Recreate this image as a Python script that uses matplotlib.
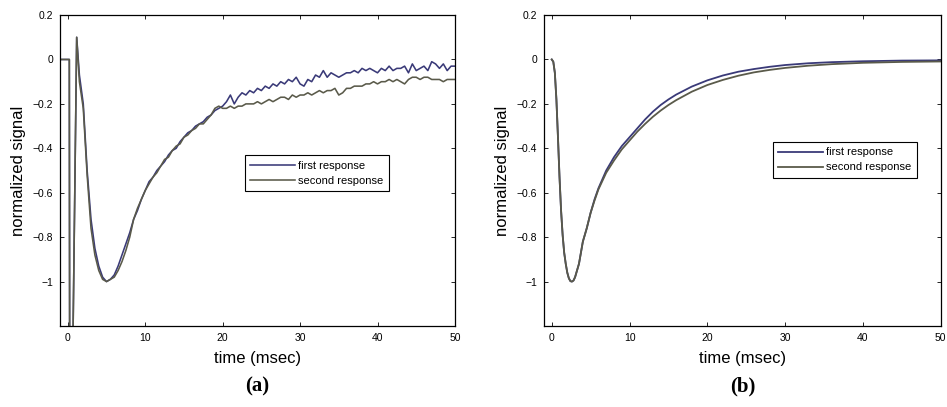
import numpy as np
import matplotlib
matplotlib.use("Agg")
import matplotlib.pyplot as plt
from matplotlib import rcParams
rcParams["font.family"] = ["Liberation Sans", "DejaVu Sans"]

# ---- panel (a): measured responses ----
t_a_early = [-1.0, 0.2, 0.25, 0.55, 1.15]
y_a_early = [0.0, 0.0, -1.6, -1.6, 0.1]
t_a = [1.5, 2.0, 2.5, 3.0, 3.5, 4.0, 4.5, 5.0, 5.5, 6.0,
       6.5, 7.0, 7.5, 8.0, 8.5, 9.0, 9.5, 10.0, 10.5, 11.0,
       11.5, 12.0, 12.5, 13.0, 13.5, 14.0, 14.5, 15.0, 15.5, 16.0,
       16.5, 17.0, 17.5, 18.0, 18.5, 19.0, 19.5, 20.0, 20.5, 21.0,
       21.5, 22.0, 22.5, 23.0, 23.5, 24.0, 24.5, 25.0, 25.5, 26.0,
       26.5, 27.0, 27.5, 28.0, 28.5, 29.0, 29.5, 30.0, 30.5, 31.0,
       31.5, 32.0, 32.5, 33.0, 33.5, 34.0, 34.5, 35.0, 35.5, 36.0,
       36.5, 37.0, 37.5, 38.0, 38.5, 39.0, 39.5, 40.0, 40.5, 41.0,
       41.5, 42.0, 42.5, 43.0, 43.5, 44.0, 44.5, 45.0, 45.5, 46.0,
       46.5, 47.0, 47.5, 48.0, 48.5, 49.0, 49.5, 50.0]
first_a = [-0.07, -0.20, -0.50, -0.72, -0.85, -0.93, -0.98, -1.00, -0.99, -0.97,
           -0.93, -0.88, -0.83, -0.78, -0.72, -0.68, -0.63, -0.59, -0.55, -0.53,
           -0.50, -0.48, -0.46, -0.43, -0.41, -0.40, -0.37, -0.35, -0.33, -0.32,
           -0.30, -0.29, -0.28, -0.26, -0.25, -0.23, -0.22, -0.21, -0.19, -0.16,
           -0.20, -0.17, -0.15, -0.16, -0.14, -0.15, -0.13, -0.14, -0.12, -0.13,
           -0.11, -0.12, -0.10, -0.11, -0.09, -0.10, -0.08, -0.11, -0.12, -0.09,
           -0.10, -0.07, -0.08, -0.05, -0.08, -0.06, -0.07, -0.08, -0.07, -0.06,
           -0.06, -0.05, -0.06, -0.04, -0.05, -0.04, -0.05, -0.06, -0.04, -0.05,
           -0.03, -0.05, -0.04, -0.04, -0.03, -0.06, -0.02, -0.05, -0.04, -0.03,
           -0.05, -0.01, -0.02, -0.04, -0.02, -0.05, -0.03, -0.03]
second_a = [-0.10, -0.22, -0.52, -0.76, -0.88, -0.95, -0.99, -1.00, -0.99, -0.98,
            -0.95, -0.91, -0.86, -0.80, -0.72, -0.67, -0.63, -0.59, -0.56, -0.53,
            -0.51, -0.48, -0.45, -0.44, -0.41, -0.39, -0.38, -0.35, -0.34, -0.32,
            -0.31, -0.29, -0.29, -0.27, -0.25, -0.22, -0.21, -0.22, -0.22, -0.21,
            -0.22, -0.21, -0.21, -0.20, -0.20, -0.20, -0.19, -0.20, -0.19, -0.18,
            -0.19, -0.18, -0.17, -0.17, -0.18, -0.16, -0.17, -0.16, -0.16, -0.15,
            -0.16, -0.15, -0.14, -0.15, -0.14, -0.14, -0.13, -0.16, -0.15, -0.13,
            -0.13, -0.12, -0.12, -0.12, -0.11, -0.11, -0.10, -0.11, -0.10, -0.10,
            -0.09, -0.10, -0.09, -0.10, -0.11, -0.09, -0.08, -0.08, -0.09, -0.08,
            -0.08, -0.09, -0.09, -0.09, -0.10, -0.09, -0.09, -0.09]

# ---- panel (b): model responses ----
t_b = [0, 0.2, 0.4, 0.6, 0.8, 1.0, 1.2, 1.4, 1.6, 1.8, 2.0, 2.2, 2.4, 2.6, 2.8,
       3.0, 3.5, 4.0, 4.5, 5.0, 5.5, 6, 7, 8, 9, 10, 11, 12, 13, 14, 15, 16,
       18, 20, 22, 24, 26, 28, 30, 33, 36, 40, 45, 50]
first_b = [0.0, -0.01, -0.06, -0.18, -0.35, -0.53, -0.68, -0.79, -0.87, -0.92,
           -0.96, -0.985, -0.998, -1.0, -0.995, -0.98, -0.92, -0.82, -0.76, -0.69,
           -0.63, -0.58, -0.50, -0.44, -0.39, -0.35, -0.31, -0.27, -0.235, -0.205,
           -0.18, -0.158, -0.122, -0.094, -0.072, -0.055, -0.043, -0.033, -0.025,
           -0.017, -0.012, -0.008, -0.005, -0.004]
second_b = [0.0, -0.01, -0.06, -0.18, -0.35, -0.53, -0.68, -0.79, -0.87, -0.92,
            -0.96, -0.985, -0.998, -1.0, -0.995, -0.98, -0.92, -0.82, -0.76, -0.69,
            -0.635, -0.585, -0.51, -0.455, -0.405, -0.365, -0.325, -0.29, -0.258, -0.23,
            -0.205, -0.183, -0.145, -0.115, -0.092, -0.073, -0.058, -0.047, -0.038,
            -0.028, -0.021, -0.015, -0.011, -0.009]

yticks = [-1.0, -0.8, -0.6, -0.4, -0.2, 0.0, 0.2]
ytick_labels = ["\u22121", "\u22120.8", "\u22120.6", "\u22120.4", "\u22120.2", "0", "0.2"]
xticks = [0, 10, 20, 30, 40, 50]

c_first = "#3a3a78"
c_second = "#5a5a4a"

fig = plt.figure(figsize=(9.47, 4.07), dpi=100)
ax_a = fig.add_axes([0.0634, 0.199, 0.417, 0.764])
ax_b = fig.add_axes([0.5744, 0.199, 0.419, 0.764])

ax_a.plot(t_a_early + t_a, y_a_early + first_a, color=c_first, lw=1.15, label="first response")
ax_a.plot(t_a_early + t_a, y_a_early + second_a, color=c_second, lw=1.15, label="second response")
ax_b.plot(t_b, first_b, color=c_first, lw=1.3, label="first response")
ax_b.plot(t_b, second_b, color=c_second, lw=1.3, label="second response")

for ax, lx, ly, lab in [(ax_a, 0.468, 0.55, "(a)"), (ax_b, 0.577, 0.592, "(b)")]:
    ax.set_xlim(-1, 50); ax.set_ylim(-1.2, 0.2)
    ax.set_xticks(xticks); ax.set_yticks(yticks); ax.set_yticklabels(ytick_labels)
    ax.tick_params(direction="in", top=True, right=True, labelsize=7.5, length=3, width=0.6, pad=5)
    for s in ax.spines.values(): s.set_linewidth(0.9)
    ax.set_xlabel("time (msec)", fontsize=12, labelpad=6)
    ax.set_ylabel("normalized signal", fontsize=12, labelpad=5)
    leg = ax.legend(loc="upper left", bbox_to_anchor=(lx, ly), fontsize=8, handlelength=4,
                    fancybox=False, framealpha=1, edgecolor="black", borderpad=0.5,
                    labelspacing=0.45, handletextpad=0.3, borderaxespad=0)
    leg.get_frame().set_linewidth(0.8)
    ax.text(0.5, -0.195, lab, transform=ax.transAxes, ha="center", va="center",
            fontsize=15, fontweight="bold", family="Liberation Serif")

fig.savefig("out.png", dpi=100)
